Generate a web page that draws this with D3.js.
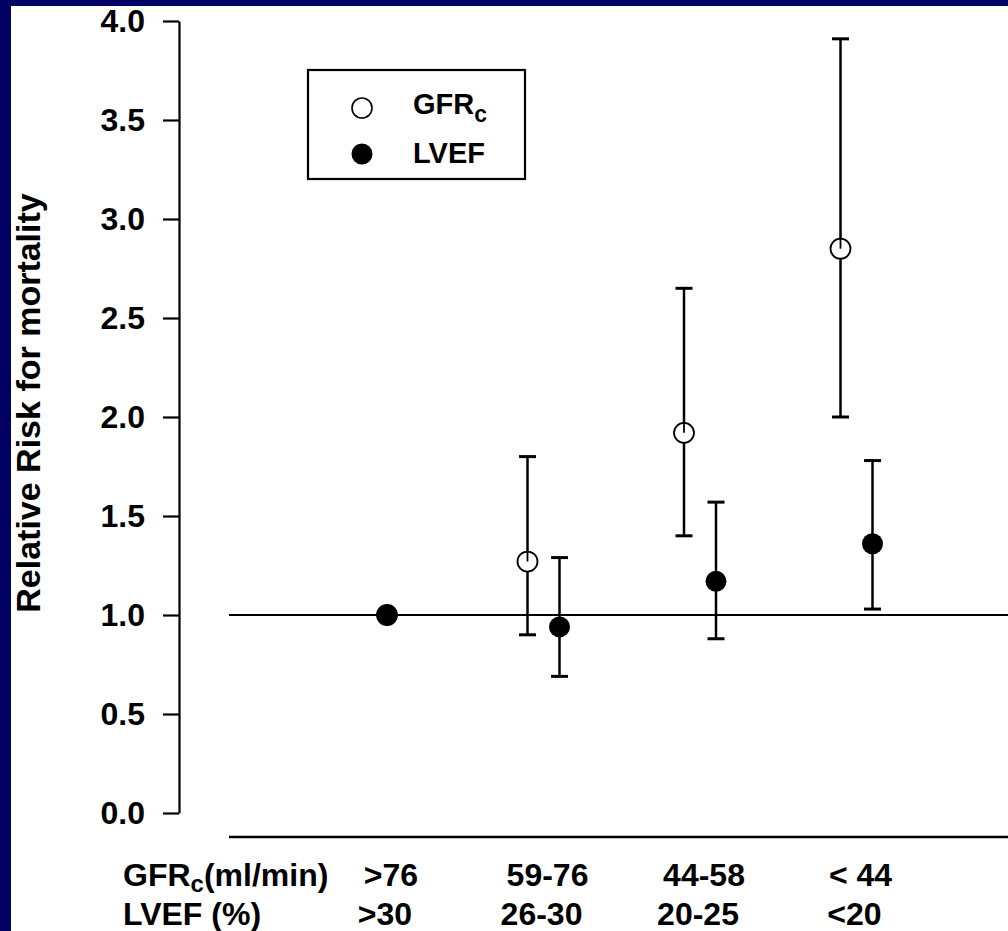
<!DOCTYPE html>
<html>
<head>
<meta charset="utf-8">
<script src="https://cdn.jsdelivr.net/npm/d3@7/dist/d3.min.js"></script>
<style>
  html, body { margin: 0; padding: 0; background: #010163; }
  svg { display: block; }
  text { font-family: Arial, "Liberation Sans", sans-serif; font-weight: bold; fill: #000; }
</style>
</head>
<body>
<script>
// ---- data ----
const categories = ["c1", "c2", "c3", "c4"];
const gfrLabels = [">76", "59-76", "44-58", "< 44"];
const lvefLabels = [">30", "26-30", "20-25", "<20"];
const gfrRR = [1.0, 1.27, 1.92, 2.85];
const gfrLo = [null, 0.90, 1.40, 2.00];
const gfrHi = [null, 1.80, 2.65, 3.91];
const lvefRR = [1.0, 0.94, 1.17, 1.36];
const lvefLo = [null, 0.69, 0.88, 1.03];
const lvefHi = [null, 1.29, 1.57, 1.78];
const yTicks = [0, 0.5, 1.0, 1.5, 2.0, 2.5, 3.0, 3.5, 4.0];

const W = 1008, H = 931;
const svg = d3.select("body").append("svg").attr("width", W).attr("height", H);

svg.append("rect").attr("x", 0).attr("y", 0).attr("width", W).attr("height", H).attr("fill", "#010163");
svg.append("rect").attr("x", 11).attr("y", 6).attr("width", W - 11).attr("height", H - 6).attr("fill", "#fff");

const y = d3.scaleLinear().domain([0, 4]).range([813, 21]);
const x = d3.scalePoint().domain(categories).range([387, 856.5]).padding(0);

// y axis
const yAxis = d3.axisLeft(y).tickValues(yTicks).tickFormat(d3.format(".1f"))
  .tickSize(16).tickSizeOuter(0).tickPadding(18);
const gy = svg.append("g").attr("transform", "translate(179,0)").call(yAxis);
gy.select(".domain").attr("stroke", "#000").attr("stroke-width", 2.2);
gy.selectAll(".tick line").attr("stroke", "#000").attr("stroke-width", 2.2);
gy.selectAll(".tick text").attr("font-size", 32).attr("font-family", "Arial, 'Liberation Sans', sans-serif")
  .attr("font-weight", "bold").attr("fill", "#000");

// y label
svg.append("text").attr("transform", "translate(40,403) rotate(-90)")
  .attr("text-anchor", "middle").attr("font-size", 34).text("Relative Risk for mortality");

// x axis line and reference line
svg.append("line").attr("x1", 229).attr("x2", W).attr("y1", 837).attr("y2", 837)
  .attr("stroke", "#000").attr("stroke-width", 2.5);
svg.append("line").attr("x1", 229).attr("x2", W).attr("y1", y(1)).attr("y2", y(1))
  .attr("stroke", "#000").attr("stroke-width", 2.2);

// series
function drawSeries(rr, lo, hi, off, filled) {
  const data = categories.map((c, i) => ({ c, v: rr[i], lo: lo[i], hi: hi[i] }));
  const px = d => x(d.c) + (d.lo == null ? 0 : off);
  const g = svg.append("g");
  const eb = data.filter(d => d.lo != null);
  g.selectAll("line.bar").data(eb).join("line")
    .attr("x1", px).attr("x2", px).attr("y1", d => y(d.lo)).attr("y2", d => y(d.hi))
    .attr("stroke", "#000").attr("stroke-width", 2.5);
  ["lo", "hi"].forEach(k => {
    g.selectAll("line.cap" + k).data(eb).join("line")
      .attr("x1", d => px(d) - 8.5).attr("x2", d => px(d) + 8.5)
      .attr("y1", d => y(d[k])).attr("y2", d => y(d[k]))
      .attr("stroke", "#000").attr("stroke-width", 3);
  });
  g.selectAll("circle").data(data).join("circle")
    .attr("cx", px).attr("cy", d => y(d.v)).attr("r", filled ? 10.5 : 10)
    .attr("fill", filled ? "#000" : "#fff").attr("stroke", "#000").attr("stroke-width", filled ? 0 : 1.8);
  if (!filled) {
    g.selectAll("line.inner").data(eb).join("line")
      .attr("x1", px).attr("x2", px).attr("y1", d => y(d.v)).attr("y2", d => y(d.v) - 10)
      .attr("stroke", "#000").attr("stroke-width", 1.8);
  }
}
drawSeries(gfrRR, gfrLo, gfrHi, -16, false);
drawSeries(lvefRR, lvefLo, lvefHi, 16, true);

// legend
svg.append("rect").attr("x", 308).attr("y", 70).attr("width", 217).attr("height", 109)
  .attr("fill", "none").attr("stroke", "#000").attr("stroke-width", 2.2);
svg.append("circle").attr("cx", 362).attr("cy", 108).attr("r", 10)
  .attr("fill", "#fff").attr("stroke", "#000").attr("stroke-width", 1.6);
svg.append("circle").attr("cx", 362).attr("cy", 154).attr("r", 10.5).attr("fill", "#000");
const lg = svg.append("text").attr("x", 413).attr("y", 114).attr("font-size", 29);
lg.append("tspan").text("GFR");
lg.append("tspan").attr("font-size", 23).attr("dy", 8).text("c");
svg.append("text").attr("x", 413).attr("y", 163).attr("font-size", 29).text("LVEF");

// x category labels
const r1 = svg.append("text").attr("x", 123).attr("y", 886).attr("font-size", 32);
r1.append("tspan").text("GFR");
r1.append("tspan").attr("font-size", 24).attr("dy", 6).text("c");
r1.append("tspan").attr("dy", -6).text("(ml/min)");
svg.append("text").attr("x", 123).attr("y", 925).attr("font-size", 32).text("LVEF (%)");

svg.append("g").selectAll("text").data(categories).join("text")
  .attr("x", d => x(d) + 4).attr("y", 886).attr("font-size", 32).attr("text-anchor", "middle")
  .text((d, i) => gfrLabels[i]);
svg.append("g").selectAll("text").data(categories).join("text")
  .attr("x", d => x(d) - 2).attr("y", 925).attr("font-size", 32).attr("text-anchor", "middle")
  .text((d, i) => lvefLabels[i]);
</script>
</body>
</html>
